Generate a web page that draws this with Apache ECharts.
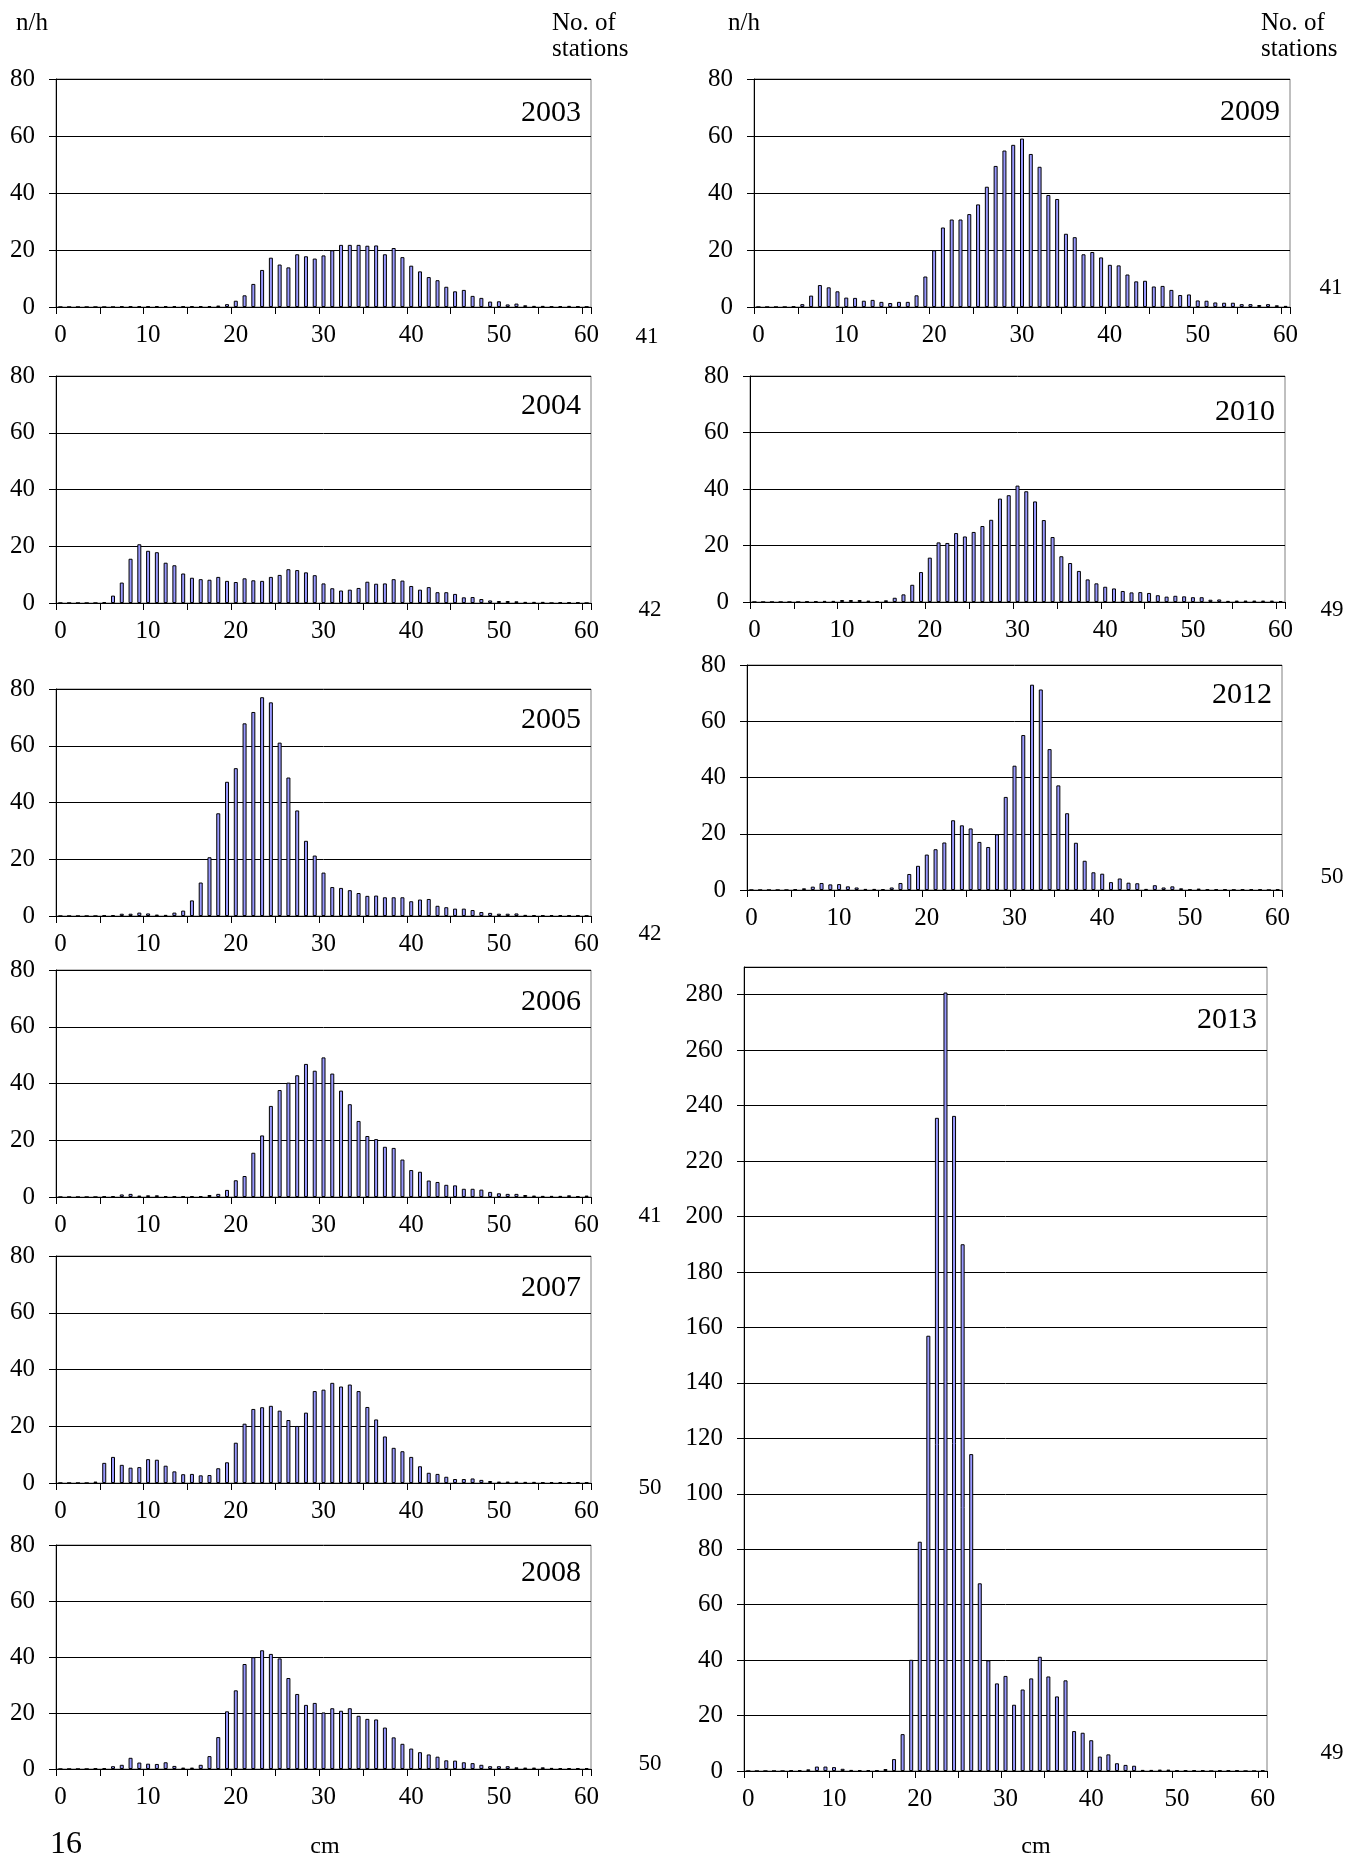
<!DOCTYPE html>
<html><head><meta charset="utf-8">
<script src="https://cdn.jsdelivr.net/npm/echarts@6/dist/echarts.min.js"></script>
<style>html,body{margin:0;padding:0;background:#fff}#c{width:1348px;height:1857px}</style>
</head><body><div id="c"></div>
<script>
// categories: fish length, cm
const cm = ['0','1','2','3','4','5','6','7','8','9','10','11','12','13','14','15','16','17','18','19','20',
  '21','22','23','24','25','26','27','28','29','30','31','32','33','34','35','36','37','38','39','40',
  '41','42','43','44','45','46','47','48','49','50','51','52','53','54','55','56','57','58','59','60'];

// n/h per length class
const y2003 = [0,0,0,0,0,0,0, 0.2,0.2,0.2,0.2,0.3,0.3,0.3,0.2,0.3,0.3,0.3,0.5,1,
  2.2,4.1,8.1,13,17.3,14.9,13.9,18.5,17.8,17, 18.1,19.9,21.8,21.8,21.8,21.5,21.6,18.5,20.7,17.5,
  14.5,12.5,10.5,9.4,7.1,5.5,6,3.9,3.2,1.9, 2,0.9,1.2,0.6,0.4,0.4,0.2,0.3,0.4,0.2,0.1];
const y2004 = [0,0,0,0,0, 0.3,2.6,7.2,15.6,20.7, 18.4,17.9,14.2,13.3,10.4,8.9,8.4,8.2,9.2,7.8,
  7.4,8.7,8,7.8,9.2,9.9,11.9,11.6,10.8,9.8, 6.9,5.2,4.4,4.7,5.3,7.5,6.8,6.9,8.4,7.9,
  6,4.7,5.6,3.8,3.8,3.2,2,2.1,1.4,0.9, 0.7,0.7,0.6,0.4,0.4,0.4,0,0.2,0.2,0.2,0];
const y2005 = [0,0,0,0,0, 0.2,0.3,0.8,0.8,1.2, 0.9,0.5,0.4,1.2,1.9,5.5,11.8,20.7,36.2,47.3,
  52.1,67.9,71.9,77.1,75.3,61.1,48.8,37.2,26.5,21.3, 15.3,10.2,9.9,9.1,8.1,7.1,7.2,6.6,6.6,6.6,
  5.2,5.8,6,3.6,3.1,2.6,2.6,2.1,1.4,1.1, 0.8,0.8,0.9,0.4,0.3,0.2,0.3,0.3,0.2,0.2,0.1];
const y2006 = [0,0,0,0,0, 0.2,0.3,0.9,1.1,0.5, 0.6,0.6,0.3,0.2,0.2,0.3,0.3,0.7,1.1,2.5,
  5.9,7.4,15.6,21.7,32.1,37.7,40.3,42.9,46.9,44.5, 49.2,43.5,37.5,32.7,26.8,21.5,20.4,17.7,17.3,13.2,
  9.5,8.9,5.8,5.3,4.3,4.1,2.9,2.9,2.6,1.8, 1.3,1.1,1.1,0.7,0.5,0.4,0.4,0.4,0.6,0.3,0.5];
const y2007 = [0,0,0,0, 0.5,7.1,9.2,6.4,5.4,5.6, 8.4,8.2,6.1,4.1,3.1,3.2,2.7,2.8,5.2,7.3,
  14.2,20.9,26.1,26.7,27.2,25.5,22.2,20.1,24.8,32.4, 32.9,35.3,34,34.7,32.4,26.8,22.4,16.4,12.4,11.2,
  9.2,5.9,3.6,3.2,2.2,1.4,1.4,1.6,1.1,0.7, 0.5,0.5,0.5,0.4,0.4,0.2,0.3,0.3,0.3,0.3,0.2];
const y2008 = [0,0,0,0, 0.2,0.3,1,1.5,4,2.3, 1.9,1.8,2.4,1.1,0.5,0.5,1.5,4.6,11.4,20.6,
  28.1,37.5,39.9,42.4,41.1,39.5,32.5,26.8,22.9,23.6, 20.2,21.7,20.8,21.7,19,17.9,17.7,14.8,11.3,9,
  7.3,6,5.2,4.4,3.1,3,2.4,2.1,1.5,1, 1,1,0.6,0.5,0.5,0.6,0.4,0.3,0.3,0.3,0.3];
const y2009 = [0,0,0,0, 0.2,1,4,7.7,6.9,5.5, 3.3,3.2,2.2,2.5,1.8,1.4,1.8,1.8,4.1,10.7,
  19.9,27.9,30.7,30.7,32.6,36,42.2,49.5,54.9,56.9, 59.1,53.7,49.2,39.3,37.9,25.7,24.5,18.5,19.3,17.4,
  14.8,14.6,11.4,9,9.2,7.2,7.4,6,4.2,4.4, 2.3,2.2,1.6,1.5,1.5,1,1,0.7,1,0.6,0.4];
const y2010 = [0,0,0,0,0,0, 0.2,0.2,0.4,0.4, 0.7,0.7,0.7,0.5,0.3,0.6,1.5,2.7,6.1,10.6,
  15.7,21.1,20.9,24.4,23.2,24.8,26.9,29.1,36.6,37.8, 41.2,39.2,35.6,29,23,16.2,13.8,11,8,6.6,
  5.4,4.8,3.9,3.4,3.5,3.2,2.4,1.9,2.2,2, 1.7,1.7,0.8,0.9,0.4,0.5,0.5,0.5,0.5,0.5,0.3];
const y2012 = [0,0,0,0,0, 0.2,0.6,1.2,2.5,2, 2.1,1.3,0.9,0.4,0.4,0.3,0.9,2.5,5.7,8.6,
  12.6,14.5,16.9,24.8,23,21.9,17.1,15.3,19.8,33.1, 44.2,55.1,73,71.3,50.1,37.2,27.3,16.8,10.4,6.3,
  5.8,2.8,4.1,2.6,2.4,0.4,1.7,0.9,1.3,0.6, 0.2,0.5,0.2,0.2,0.2,0.1,0.2,0.2,0.2,0,0.2];
const y2013 = [0,0,0,0,0, 0.2,0.3,0.6,1.6,1.6, 1.4,0.8,0.4,0.3,0.3,0.2,0.7,4.3,13.3,40.1,
  82.7,157,235.6,280.8,236.3,190,114.3,67.7,39.9,31.6, 34.3,23.9,29.4,33.4,41.2,34.1,26.9,32.7,14.4,13.8,
  11.1,5.2,6,2.8,2.2,1.9,0.4,0.4,0.5,0.5, 0.2,0.2,0.2,0.2,0,0.2,0.2,0.2,0,0,0.2];

const years = ['2003','2004','2005','2006','2007','2008','2009','2010','2012','2013'];
const stations = ['41','42','42','41','50','50','41','49','50','49'];
const yMax = [80,80,80,80,80,80,80,80,80,290];
const seriesData = [y2003,y2004,y2005,y2006,y2007,y2008,y2009,y2010,y2012,y2013];

// layout (pixels)
const layout = [
  {left:56, top:79,   width:535, height:228, stX:647,  stY:337,  yd:34},
  {left:56, top:376,  width:535, height:227, stX:650,  stY:610,  yd:30},
  {left:56, top:689,  width:535, height:227, stX:650,  stY:934,  yd:31},
  {left:56, top:970,  width:535, height:227, stX:650,  stY:1216, yd:32},
  {left:56, top:1256, width:535, height:227, stX:650,  stY:1488, yd:32},
  {left:56, top:1545, width:535, height:224, stX:650,  stY:1764, yd:28},
  {left:754, top:79,  width:536, height:228, stX:1331, stY:288,  yd:33},
  {left:750, top:376, width:535, height:226, stX:1332, stY:610,  yd:36},
  {left:747, top:665, width:535, height:225, stX:1332, stY:877,  yd:30},
  {left:744, top:967, width:523, height:804, stX:1332, stY:1753, yd:53}
];

const FONT = '"Liberation Serif", "Times New Roman", serif';
const grid = [], xAxis = [], yAxis = [], series = [], graphic = [];

layout.forEach((L, i) => {
  grid.push({left:L.left, top:L.top, width:L.width, height:L.height, show:true,
    borderColor:'#808080', borderWidth:1, backgroundColor:'transparent'});
  xAxis.push({type:'category', gridIndex:i, data:cm, boundaryGap:true,
    axisLine:{show:true, onZero:false, lineStyle:{color:'#000', width:1}},
    axisTick:{show:true, interval:4, length:7, lineStyle:{color:'#000', width:1}},
    axisLabel:{interval:9, margin:16, fontSize:25, color:'#000', fontFamily:FONT},
    splitLine:{show:false}});
  yAxis.push({type:'value', gridIndex:i, min:0, max:yMax[i], interval:20,
    axisLine:{show:true, lineStyle:{color:'#000', width:1}},
    axisTick:{show:true, length:7, lineStyle:{color:'#000', width:1}},
    axisLabel:{margin:21, fontSize:25, color:'#000', fontFamily:FONT, showMaxLabel: yMax[i] % 20 === 0},
    splitLine:{show:true, lineStyle:{color:'#000', width:1}}});
  series.push({type:'bar', xAxisIndex:i, yAxisIndex:i, data:seriesData[i], barWidth:4,
    itemStyle:{color:'#9999FF', borderColor:'#000', borderWidth:1}, silent:true});
  graphic.push({type:'text', x:L.left + L.width - 10, y:L.top + L.yd,
    style:{text:years[i], fontSize:30, fontFamily:FONT, fill:'#000',
      textAlign:'right', textVerticalAlign:'middle', align:'right', verticalAlign:'middle'}});
  graphic.push({type:'text', x:L.stX, y:L.stY,
    style:{text:stations[i], fontSize:23, fontFamily:FONT, fill:'#000',
      textAlign:'center', textVerticalAlign:'middle', align:'center', verticalAlign:'middle'}});
});

function txt(t, x, y, size, align) {
  graphic.push({type:'text', x:x, y:y, style:{text:t, fontSize:size, fontFamily:FONT, fill:'#000',
    textAlign:align, textVerticalAlign:'middle', align:align, verticalAlign:'middle'}});
}
txt('n/h', 16, 23, 25, 'left');
txt('n/h', 728, 23, 25, 'left');
txt('No. of', 552, 23, 25, 'left');
txt('stations', 552, 49, 25, 'left');
txt('No. of', 1261, 23, 25, 'left');
txt('stations', 1261, 49, 25, 'left');
txt('16', 50, 1845, 32, 'left');
txt('cm', 325, 1847, 24, 'center');
txt('cm', 1036, 1847, 24, 'center');

const chart = echarts.init(document.getElementById('c'), null, {renderer:'canvas'});
chart.setOption({backgroundColor:'#fff', animation:false, grid, xAxis, yAxis, series, graphic});
</script></body></html>
